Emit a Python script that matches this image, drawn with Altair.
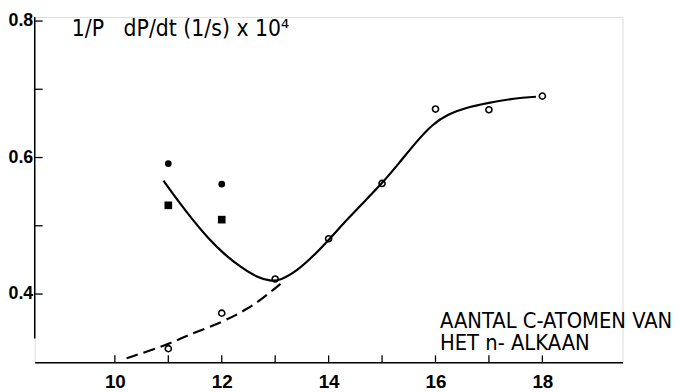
import altair as alt
import pandas as pd

FONT = "DejaVu Sans Condensed, Liberation Sans, sans-serif"
NUM_FONT = "Liberation Sans, Arial, sans-serif"

# open circles (n-alkane series)
open_x = [11, 12, 13, 14, 15, 16, 17, 18]
open_y = [0.320, 0.372, 0.422, 0.481, 0.562, 0.671, 0.670, 0.690]
# filled circles
fc_x = [11, 12]
fc_y = [0.591, 0.561]
# filled squares
fs_x = [11, 12]
fs_y = [0.530, 0.509]

# solid drawn curve
solid_x = [10.91, 11.12, 11.43, 11.74, 12.05, 12.36, 12.67, 12.91, 13.10, 13.41, 13.72, 14.01,
           14.39, 14.70, 15.01, 15.32, 15.63, 15.94, 16.25, 16.56, 16.99, 17.48, 17.88]
solid_y = [0.566, 0.543, 0.511, 0.482, 0.458, 0.439, 0.424, 0.419, 0.420, 0.434, 0.456, 0.480,
           0.513, 0.538, 0.563, 0.592, 0.622, 0.649, 0.664, 0.673, 0.680, 0.687, 0.689]
# dashed curve
dash_x = [10.22, 11.00, 11.37, 12.02, 12.48, 12.79, 13.10]
dash_y = [0.306, 0.326, 0.340, 0.359, 0.378, 0.395, 0.415]

x_ticks = [10, 11, 12, 13, 14, 15, 16, 17, 18]
x_labels = [10, 12, 14, 16, 18]
y_ticks = [0.4, 0.5, 0.6, 0.7, 0.8]
y_labels = [0.4, 0.6, 0.8]

y_title = "1/P\u00a0\u00a0\u00a0dP/dt (1/s) x 10⁴"
x_title = ["AANTAL C-ATOMEN VAN", "HET n- ALKAAN"]

XMIN, XMAX = 8.5, 19.5
YMIN, YMAX = 0.30, 0.806
Y_AXIS_BOTTOM = 0.335

W, H = 594, 349

xs = alt.Scale(domain=[XMIN, XMAX], nice=False, zero=False)
ys = alt.Scale(domain=[YMIN, YMAX], nice=False, zero=False)

x_axis = alt.Axis(values=x_labels, format="d", ticks=False, grid=False, domain=True,
                  domainColor="black", domainWidth=1.5, labelFont=NUM_FONT, labelFontSize=19,
                  labelFontWeight="bold", labelColor="black", labelPadding=10,
                  title=x_title, titleFont=FONT,
                  titleFontSize=22, titleFontWeight="normal", titleColor="black",
                  titleAlign="left", titleAnchor="start", titleBaseline="alphabetic",
                  titleX=409, titleY=-35, titleLineHeight=22)
y_axis = alt.Axis(values=y_labels, format=".1f", ticks=False, grid=False, domain=False,
                  labelFont=NUM_FONT, labelFontSize=18, labelFontWeight="bold",
                  labelColor="black", labelPadding=2,
                  title=y_title, titleFont=FONT, titleFontSize=23,
                  titleFontWeight="normal", titleColor="black", titleAngle=0,
                  titleAlign="left", titleBaseline="alphabetic", titleX=37, titleY=19)

solid_df = pd.DataFrame({"x": solid_x, "y": solid_y})
dash_df = pd.DataFrame({"x": dash_x, "y": dash_y})
open_df = pd.DataFrame({"x": open_x, "y": open_y})
fc_df = pd.DataFrame({"x": fc_x, "y": fc_y})
fs_df = pd.DataFrame({"x": fs_x, "y": fs_y})

base_axes = alt.Chart(pd.DataFrame({"x": [XMIN], "y": [YMIN]})).mark_point(opacity=0).encode(
    x=alt.X("x:Q", scale=xs, axis=x_axis),
    y=alt.Y("y:Q", scale=ys, axis=y_axis),
)

yaxis_line = alt.Chart(pd.DataFrame({"y": [Y_AXIS_BOTTOM], "y2": [YMAX]})).mark_rule(
    color="black", strokeWidth=1.5).encode(
    x=alt.value(0), y=alt.Y("y:Q", scale=ys), y2="y2:Q")

ytick_marks = alt.Chart(pd.DataFrame({"y": y_ticks})).mark_rule(color="black", strokeWidth=1.3).encode(
    x=alt.value(0), x2=alt.value(8), y=alt.Y("y:Q", scale=ys))

xtick_marks = alt.Chart(pd.DataFrame({"x": x_ticks})).mark_rule(color="black", strokeWidth=1.3).encode(
    x=alt.X("x:Q", scale=xs), y=alt.value(H), y2=alt.value(H - 7))

solid = alt.Chart(solid_df).mark_line(color="black", strokeWidth=2.2, interpolate="basis").encode(
    x=alt.X("x:Q", scale=xs), y=alt.Y("y:Q", scale=ys))
dashed = alt.Chart(dash_df).mark_line(color="black", strokeWidth=2.2, strokeDash=[12, 6],
                                      interpolate="basis").encode(
    x=alt.X("x:Q", scale=xs), y=alt.Y("y:Q", scale=ys))

opens = alt.Chart(open_df).mark_point(shape="circle", filled=False, color="black", size=38,
                                      strokeWidth=1.6, opacity=1).encode(
    x=alt.X("x:Q", scale=xs), y=alt.Y("y:Q", scale=ys))
fcirc = alt.Chart(fc_df).mark_point(shape="circle", filled=True, color="black", size=45,
                                    opacity=1).encode(
    x=alt.X("x:Q", scale=xs), y=alt.Y("y:Q", scale=ys))
fsq = alt.Chart(fs_df).mark_point(shape="square", filled=True, color="black", size=60,
                                  opacity=1).encode(
    x=alt.X("x:Q", scale=xs), y=alt.Y("y:Q", scale=ys))

chart = alt.layer(base_axes, yaxis_line, ytick_marks, xtick_marks, dashed, solid, opens, fcirc, fsq).properties(
    width=W, height=H,
    autosize=alt.AutoSizeParams(type="none"),
    padding={"left": 27, "top": 7, "right": 50, "bottom": 28},
).configure_view(stroke=None).configure(background="white")

chart.save("out.html", embed_options={"renderer": "svg", "actions": False})
